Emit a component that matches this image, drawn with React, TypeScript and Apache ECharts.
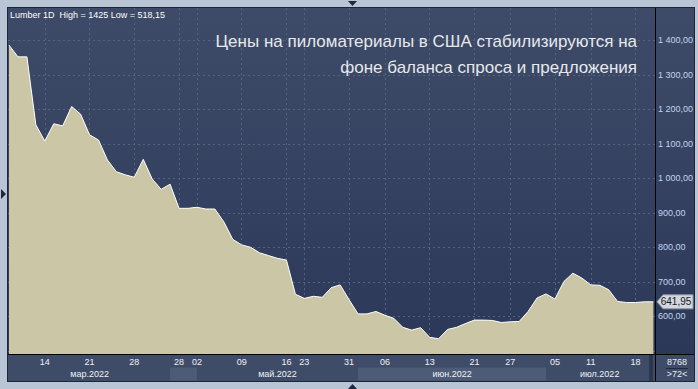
import React, { useEffect, useRef } from "react";
import * as echarts from "echarts";

// ---------- data ----------
const dates = [
  "2022-03-08", "2022-03-09", "2022-03-10", "2022-03-11", "2022-03-14", "2022-03-15", "2022-03-16",
  "2022-03-17", "2022-03-18", "2022-03-21", "2022-03-22", "2022-03-23", "2022-03-24", "2022-03-25",
  "2022-03-28", "2022-03-29", "2022-03-30", "2022-03-31", "2022-04-27", "2022-04-28", "2022-04-29",
  "2022-05-02", "2022-05-03", "2022-05-04", "2022-05-05", "2022-05-06", "2022-05-09", "2022-05-10",
  "2022-05-11", "2022-05-12", "2022-05-13", "2022-05-16", "2022-05-17", "2022-05-23", "2022-05-24",
  "2022-05-25", "2022-05-26", "2022-05-27", "2022-05-31", "2022-06-01", "2022-06-02", "2022-06-03",
  "2022-06-06", "2022-06-07", "2022-06-08", "2022-06-09", "2022-06-10", "2022-06-13", "2022-06-14",
  "2022-06-15", "2022-06-16", "2022-06-17", "2022-06-21", "2022-06-22", "2022-06-23", "2022-06-24",
  "2022-06-27", "2022-06-28", "2022-06-29", "2022-06-30", "2022-07-01", "2022-07-05", "2022-07-06",
  "2022-07-07", "2022-07-08", "2022-07-11", "2022-07-12", "2022-07-13", "2022-07-14", "2022-07-15",
  "2022-07-18", "2022-07-19", "2022-07-20",
];

const prices = [
  1386, 1352, 1352, 1155, 1108, 1158, 1152,
  1208, 1186, 1126, 1111, 1053, 1019, 1010,
  1003, 1055, 998, 968, 983, 913, 913,
  916, 911, 911, 874, 823, 807, 800,
  784, 776, 768, 763, 664, 652, 658,
  655, 683, 691, 648, 607, 607, 614,
  603, 594, 568, 560, 567, 539, 535,
  562, 568, 579, 589, 589, 588, 582,
  584, 585, 614, 653, 665, 650, 701,
  725, 711, 691, 690, 677, 643, 640,
  640, 642, 641.95,
];

const tickDates = [
  "2022-03-14", "2022-03-21", "2022-03-28", "2022-04-28", "2022-05-02", "2022-05-09", "2022-05-16",
  "2022-05-23", "2022-05-31", "2022-06-06", "2022-06-13", "2022-06-21", "2022-06-27", "2022-07-05",
  "2022-07-11", "2022-07-18",
];

const monthKeys = ["03", "04", "05", "06", "07"];
const monthLabels = ["мар.2022", "апр.2022", "май.2022", "июн.2022", "июл.2022"];
const shadedMonths = ["04", "06"];

const yTickMin = 500;
const yTickMax = 1400;
const yTickStep = 100;

const headerText = "Lumber 1D  High = 1425 Low = 518,15";
const titleLine1 = "Цены на пиломатериалы в США стабилизируются на";
const titleLine2 = "фоне баланса спроса и предложения";
const barsCount = "8768";
const barsShown = ">72<";

// ---------- helpers ----------
const W = 698;
const H = 389;
const PX_PER_UNIT = 0.345;
const Y600 = 316.3;
const PLOT_TOP = 8;
const PLOT_BOTTOM = 354;
const AXIS_X = 655;

function fmtRu(v: number): string {
  const s = v.toFixed(2);
  const [ip, dp] = s.split(".");
  const withSp = ip.replace(/\B(?=(\d{3})+(?!\d))/g, " ");
  return withSp + "," + dp;
}

const tickSet = new Set(tickDates);

function monthGroups() {
  const groups: number[][] = [];
  let cur = "";
  dates.forEach((d, i) => {
    const m = d.slice(5, 7);
    if (m !== cur) {
      cur = m;
      groups.push([i, 0, monthKeys.indexOf(m)]);
    }
  });
  for (let g = 0; g < groups.length; g++) {
    groups[g][1] = g + 1 < groups.length ? groups[g + 1][0] : dates.length - 1;
  }
  return groups.map((g) => [g[0], g[1], 0.5, g[2]]);
}

export default function App() {
  const ref = useRef<HTMLDivElement>(null);

  useEffect(() => {
    if (!ref.current) return;
    const chart = echarts.init(ref.current, undefined, { renderer: "svg" });

    const yMin = 600 - (PLOT_BOTTOM - Y600) / PX_PER_UNIT;
    const yMax = 600 + (Y600 - PLOT_TOP) / PX_PER_UNIT;
    const gridRight = 44.6;
    const g1Top = Y600 - (yTickMax - 600) * PX_PER_UNIT;
    const g1Bottom = H - (Y600 + (600 - yTickMin) * PX_PER_UNIT);

    const font = "Liberation Sans, Arial, sans-serif";
    const gridColor = "#56637f";

    const baseGraphics: any[] = [
      { id: "outer", type: "rect", z: -100, shape: { x: 0, y: 0, width: W, height: H }, style: { fill: "#b9c4d5" } },
      { id: "frameDark", type: "rect", z: -99, shape: { x: 7, y: 7, width: 688, height: 375 }, style: { fill: "#1c2639" } },
      {
        id: "plotBg", type: "rect", z: -98,
        shape: { x: 8, y: 8, width: 686, height: PLOT_BOTTOM - 8 },
        style: {
          fill: new echarts.graphic.LinearGradient(0, 0, 0, 1, [
            { offset: 0, color: "#3e4b68" },
            { offset: 1, color: "#2b3858" },
          ]),
        },
      },
      { id: "strip", type: "rect", z: -98, shape: { x: 8, y: PLOT_BOTTOM, width: 686, height: 27 }, style: { fill: "#3f4c68" } },
      { id: "scroll", type: "rect", z: 50, shape: { x: 649, y: 355, width: 4, height: 26 }, style: { fill: "#2b3650" } },
      { id: "hline", type: "line", z: 60, shape: { x1: 8, y1: PLOT_BOTTOM + 0.5, x2: 694, y2: PLOT_BOTTOM + 0.5 }, style: { stroke: "#000", lineWidth: 1 } },
      { id: "vline", type: "line", z: 60, shape: { x1: AXIS_X + 0.5, y1: 8, x2: AXIS_X + 0.5, y2: 381 }, style: { stroke: "#000", lineWidth: 1 } },
      { id: "triL", type: "polygon", z: 60, shape: { points: [[1, 189], [6, 194], [1, 199]] }, style: { fill: "#1c2840" } },
      { id: "triT", type: "polygon", z: 60, shape: { points: [[348, 1], [357, 1], [352.5, 6]] }, style: { fill: "#1c2840" } },
      { id: "triB", type: "polygon", z: 60, shape: { points: [[348, 389], [357, 389], [352.5, 384]] }, style: { fill: "#1c2840" } },
      {
        id: "header", type: "text", z: 60, x: 10, y: 15,
        style: { text: headerText, fill: "#ffffff", font: `9px ${font}`, textVerticalAlign: "middle", verticalAlign: "middle" },
      },
      {
        id: "title1", type: "text", z: 60, x: 637, y: 41,
        style: { text: titleLine1, fill: "#e6e8ec", font: `17px ${font}`, textAlign: "right", align: "right", textVerticalAlign: "middle", verticalAlign: "middle" },
      },
      {
        id: "title2", type: "text", z: 60, x: 637, y: 67,
        style: { text: titleLine2, fill: "#e6e8ec", font: `17px ${font}`, textAlign: "right", align: "right", textVerticalAlign: "middle", verticalAlign: "middle" },
      },
      {
        id: "cnt1", type: "text", z: 60, x: 677, y: 362,
        style: { text: barsCount, fill: "#e8ecf2", font: `9px ${font}`, textAlign: "center", align: "center", textVerticalAlign: "middle", verticalAlign: "middle" },
      },
      { id: "cntLine", type: "line", z: 60, shape: { x1: 666, y1: 368.5, x2: 688, y2: 368.5 }, style: { stroke: "#1f2940", lineWidth: 1 } },
      {
        id: "cnt2", type: "text", z: 60, x: 677, y: 374,
        style: { text: barsShown, fill: "#e8ecf2", font: `9px ${font}`, textAlign: "center", align: "center", textVerticalAlign: "middle", verticalAlign: "middle" },
      },
    ];

    const option: any = {
      animation: false,
      backgroundColor: "transparent",
      grid: [
        { left: 9, right: gridRight, top: PLOT_TOP, bottom: H - PLOT_BOTTOM, containLabel: false },
        { left: 8, right: W - AXIS_X, top: g1Top, bottom: g1Bottom, containLabel: false },
        { left: 9, right: gridRight, top: 367.5, height: 13, containLabel: false },
      ],
      xAxis: [
        {
          gridIndex: 0,
          type: "category",
          data: dates,
          boundaryGap: false,
          axisLine: { show: false },
          axisTick: { show: false },
          axisLabel: {
            interval: (_i: number, v: string) => tickSet.has(v),
            formatter: (v: string) => v.slice(8),
            color: "#eef1f6",
            fontSize: 9,
            fontFamily: font,
            margin: 3,
          },
          splitLine: {
            show: true,
            interval: (_i: number, v: string) => tickSet.has(v),
            lineStyle: { color: gridColor, type: [2, 3], width: 1 },
          },
        },
        { gridIndex: 1, type: "value", min: 0, max: 1, show: false },
        { gridIndex: 2, type: "category", data: dates, boundaryGap: false, show: false },
      ],
      yAxis: [
        { gridIndex: 0, type: "value", min: yMin, max: yMax, show: false },
        {
          gridIndex: 1,
          type: "value",
          position: "right",
          min: yTickMin,
          max: yTickMax,
          interval: yTickStep,
          axisLine: { show: false },
          axisTick: { show: false },
          axisLabel: {
            formatter: (v: number) => (v < 600 ? "" : fmtRu(v)),
            color: "#c4d4f0",
            fontSize: 9,
            fontFamily: font,
            margin: 3,
          },
          splitLine: { show: true, lineStyle: { color: gridColor, type: [2, 3], width: 1 } },
        },
        { gridIndex: 2, type: "value", min: 0, max: 1, show: false },
      ],
      series: [
        {
          type: "line",
          xAxisIndex: 0,
          yAxisIndex: 0,
          data: prices,
          showSymbol: false,
          symbol: "none",
          lineStyle: { color: "#ffffff", width: 1 },
          areaStyle: { color: "#cbc6a5", opacity: 1, origin: "start" },
          z: 3,
        },
        {
          type: "custom",
          xAxisIndex: 2,
          yAxisIndex: 2,
          data: monthGroups(),
          encode: { x: [0, 1], y: 2 },
          renderItem: (_params: any, api: any) => {
            const s = api.value(0);
            const e = api.value(1);
            const k = api.value(3);
            const p0 = api.coord([s, 0]);
            const p1 = api.coord([e, 1]);
            const x0 = p0[0];
            const x1 = p1[0];
            const yb = p0[1];
            const yt = p1[1];
            const children: any[] = [];
            if (shadedMonths.includes(monthKeys[k])) {
              children.push({
                type: "rect",
                shape: { x: x0, y: yt, width: x1 - x0, height: yb - yt },
                style: { fill: "#4d5b77" },
              });
            }
            if (x1 - x0 > 50) {
              children.push({
                type: "text",
                x: (x0 + x1) / 2,
                y: (yt + yb) / 2,
                style: {
                  text: monthLabels[k],
                  fill: "#eef1f6",
                  font: `9px ${font}`,
                  textAlign: "center",
                  align: "center",
                  textVerticalAlign: "middle",
                  verticalAlign: "middle",
                },
              });
            }
            return { type: "group", children };
          },
        },
      ],
      graphic: { elements: baseGraphics },
    };

    chart.setOption(option);

    const li = dates.length - 1;
    const pt = chart.convertToPixel({ seriesIndex: 0 }, [li, prices[li]]) as number[];
    const py = pt[1];
    const tagX = AXIS_X + 2;
    chart.setOption({
      graphic: {
        elements: [
          ...baseGraphics,
          {
            id: "tag", type: "polygon", z: 70,
            shape: { points: [[tagX, py], [tagX + 6, py - 7], [693, py - 7], [693, py + 7], [tagX + 6, py + 7]] },
            style: { fill: "#d3d7df", stroke: "#8d96a8", lineWidth: 1 },
          },
          {
            id: "tagText", type: "text", z: 71, x: 676, y: py,
            style: {
              text: fmtRu(prices[li]).replace(/ /g, " "),
              fill: "#1a1a1a",
              font: `10px ${font}`,
              textAlign: "center",
              align: "center",
              textVerticalAlign: "middle",
              verticalAlign: "middle",
            },
          },
        ],
      },
    });

    return () => chart.dispose();
  }, []);

  return (
    <div
      ref={ref}
      style={{ position: "absolute", left: 0, top: 0, width: W, height: H }}
    />
  );
}
